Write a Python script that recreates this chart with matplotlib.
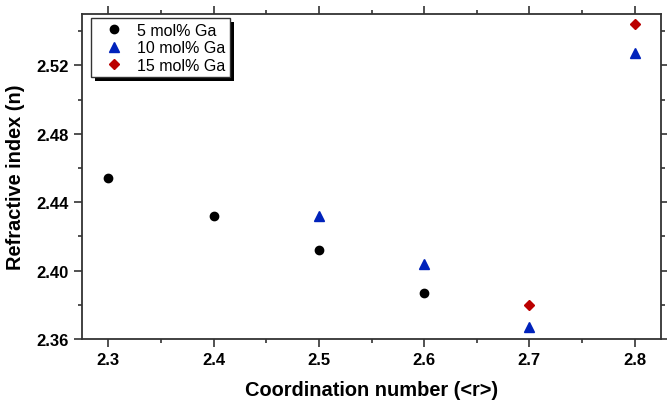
import matplotlib
matplotlib.use("Agg")
import matplotlib.pyplot as plt
from matplotlib.ticker import MultipleLocator
from matplotlib.patches import Rectangle

plt.rcParams['font.family'] = ['Liberation Sans', 'DejaVu Sans']

x5 = [2.3, 2.4, 2.5, 2.6]
y5 = [2.454, 2.432, 2.412, 2.387]
x10 = [2.5, 2.6, 2.7, 2.8]
y10 = [2.432, 2.404, 2.367, 2.527]
x15 = [2.7, 2.8]
y15 = [2.380, 2.544]

fig = plt.figure(figsize=(6.67, 4.02), dpi=100)
ax = fig.add_axes([82/667, 1-340/402, (661-82)/667, (340-15)/402])

ax.plot(x5, y5, 'o', color='black', ms=6, label='5 mol% Ga', linestyle='none')
ax.plot(x10, y10, '^', color='#0022bb', ms=6.5, label='10 mol% Ga', linestyle='none')
ax.plot(x15, y15, 'D', color='#bb0000', ms=5, label='15 mol% Ga', linestyle='none')

ax.set_xlim(2.275, 2.825)
ax.set_ylim(2.36, 2.55)
ax.xaxis.set_major_locator(MultipleLocator(0.1))
ax.xaxis.set_minor_locator(MultipleLocator(0.05))
ax.yaxis.set_minor_locator(MultipleLocator(0.02))
ax.set_yticks([2.36, 2.40, 2.44, 2.48, 2.52])
ax.set_yticklabels(['2.36', '2.40', '2.44', '2.48', '2.52'])

for s in ax.spines.values():
    s.set_linewidth(1.3)
    s.set_color('#333333')
ax.tick_params(which='both', direction='out', top=True, right=True, color='#333333', width=1.2,
               labeltop=False, labelright=False)
ax.tick_params(which='major', length=6)
ax.tick_params(which='minor', length=3)
for lab in ax.get_xticklabels() + ax.get_yticklabels():
    lab.set_fontweight('bold')
    lab.set_fontsize(12)

ax.set_xlabel('Coordination number (<r>)', fontsize=14.4, fontweight='bold', labelpad=9)
ax.set_ylabel('Refractive index (n)', fontsize=14.4, fontweight='bold', labelpad=8)

leg = ax.legend(loc='upper left', bbox_to_anchor=(9/579, 1-4/325), fontsize=11.5, frameon=True,
                fancybox=False, shadow=False, borderpad=0.3,
                handletextpad=0.3, labelspacing=0.15, borderaxespad=0.0, handlelength=2.3)
leg.get_frame().set_edgecolor('#333333')
leg.get_frame().set_linewidth(1.0)
leg.get_frame().set_alpha(1)

fig.canvas.draw()
bb = leg.get_window_extent()
shadow = Rectangle((bb.x0 + 4, bb.y0 - 4), bb.width, bb.height, transform=None,
                   facecolor='black', edgecolor='none', zorder=4.9, clip_on=False)
ax.add_artist(shadow)

fig.savefig('out.png', dpi=100)
